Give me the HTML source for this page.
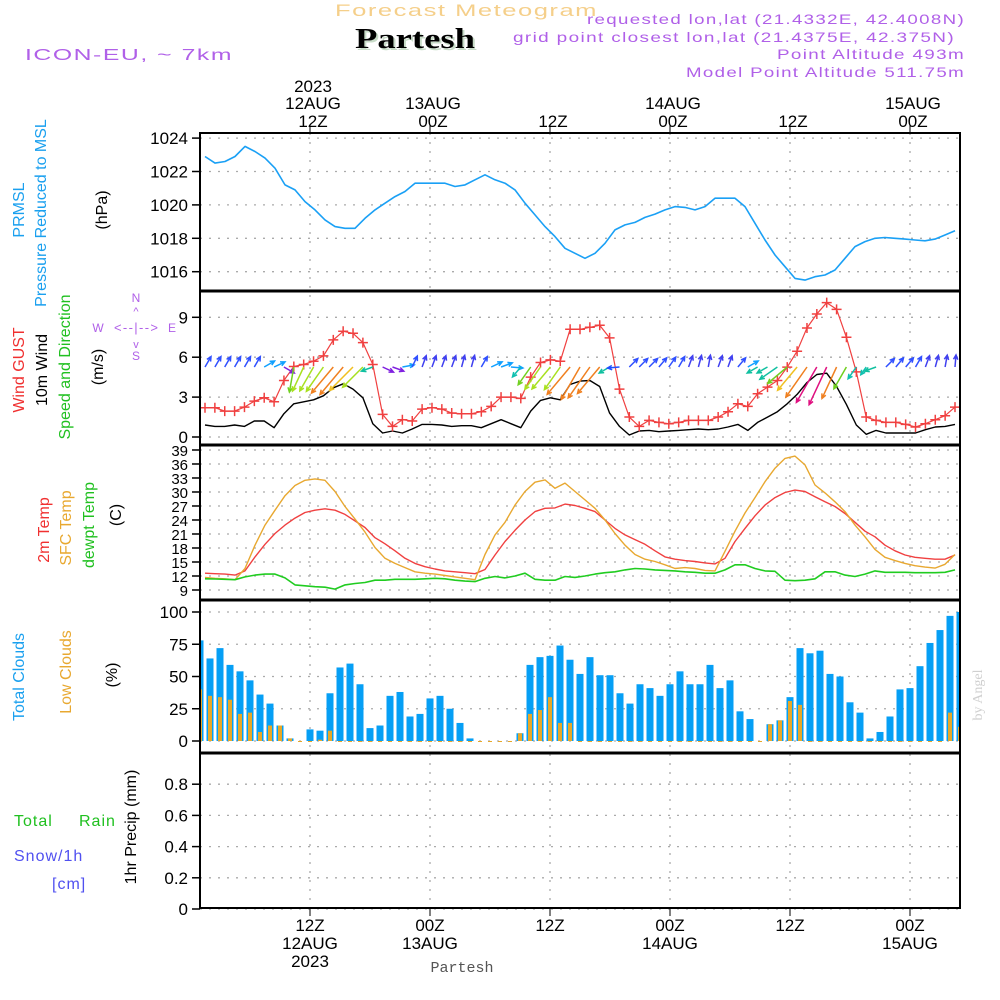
<!DOCTYPE html>
<html><head><meta charset="utf-8"><title>Forecast Meteogram Partesh</title>
<style>
html,body{margin:0;padding:0;background:#fff;}
svg{display:block;font-family:"Liberation Sans",sans-serif;}
</style></head>
<body>
<svg id="chart" width="1000" height="1000" viewBox="0 0 1000 1000" xmlns="http://www.w3.org/2000/svg">
<rect x="0" y="0" width="1000" height="1000" fill="#fff"/>
<g id="grid"></g>
<g id="marks"></g>
<g id="frame"></g>
<g id="labels"></g>

<text x="335" y="16" font-size="17" fill="#f5cf8a" textLength="263" lengthAdjust="spacingAndGlyphs" letter-spacing="1">Forecast Meteogram</text>
<text x="357" y="50" font-family="Liberation Serif,serif" font-weight="bold" font-size="28" fill="#c8dcc8" textLength="120" lengthAdjust="spacingAndGlyphs">Partesh</text>
<text x="355" y="48" font-family="Liberation Serif,serif" font-weight="bold" font-size="28" fill="#000" textLength="120" lengthAdjust="spacingAndGlyphs">Partesh</text>
<g font-size="14" fill="#b060e8" letter-spacing="1">
<text x="587" y="24" textLength="378" lengthAdjust="spacingAndGlyphs">requested lon,lat (21.4332E, 42.4008N)</text>
<text x="513" y="42" textLength="442" lengthAdjust="spacingAndGlyphs">grid point closest lon,lat (21.4375E, 42.375N)</text>
<text x="777" y="59" textLength="188" lengthAdjust="spacingAndGlyphs">Point Altitude 493m</text>
<text x="686" y="77" textLength="279" lengthAdjust="spacingAndGlyphs">Model Point Altitude 511.75m</text>
</g>
<text x="25" y="60" font-size="16" fill="#b060e8" textLength="208" lengthAdjust="spacingAndGlyphs" letter-spacing="1">ICON-EU, ~ 7km</text>

<g font-size="16">
<text transform="translate(24,210) rotate(-90)" text-anchor="middle" fill="#1aa0ef">PRMSL</text>
<text transform="translate(46,213) rotate(-90)" text-anchor="middle" fill="#1aa0ef">Pressure Reduced to MSL</text>
<text transform="translate(107,210) rotate(-90)" text-anchor="middle" fill="#000">(hPa)</text>
<text transform="translate(24,370) rotate(-90)" text-anchor="middle" fill="#f03030">Wind GUST</text>
<text transform="translate(47,370) rotate(-90)" text-anchor="middle" fill="#000">10m Wind</text>
<text transform="translate(70,367) rotate(-90)" text-anchor="middle" fill="#20c020">Speed and Direction</text>
<text transform="translate(103,367) rotate(-90)" text-anchor="middle" fill="#000">(m/s)</text>
<text transform="translate(49,530) rotate(-90)" text-anchor="middle" fill="#f03030">2m Temp</text>
<text transform="translate(71,528) rotate(-90)" text-anchor="middle" fill="#e8a830">SFC Temp</text>
<text transform="translate(94,525) rotate(-90)" text-anchor="middle" fill="#20c020">dewpt Temp</text>
<text transform="translate(121,515) rotate(-90)" text-anchor="middle" fill="#000">(C)</text>
<text transform="translate(24,677) rotate(-90)" text-anchor="middle" fill="#1aa0ef">Total Clouds</text>
<text transform="translate(71,672) rotate(-90)" text-anchor="middle" fill="#e8a830">Low Clouds</text>
<text transform="translate(117,675) rotate(-90)" text-anchor="middle" fill="#000">(%)</text>
<text transform="translate(136,827) rotate(-90)" text-anchor="middle" fill="#000">1hr Precip (mm)</text>
<text x="14" y="826" fill="#20c020" letter-spacing="1">Total</text>
<text x="79" y="826" fill="#20c020" letter-spacing="1">Rain</text>
<text x="14" y="861" fill="#5050f0" letter-spacing="1">Snow/1h</text>
<text x="52" y="889" fill="#5050f0" letter-spacing="1">[cm]</text>
</g>
<g font-size="12" fill="#b060e8" text-anchor="middle">
<text x="136" y="302">N</text>
<text x="98" y="332">W</text>
<text x="172" y="332">E</text>
<text x="136" y="360">S</text>
<text x="136" y="332" font-size="13" textLength="44" lengthAdjust="spacing">&lt;--|--&gt;</text>
<text x="136" y="315" font-size="11">^</text>
<text x="136" y="348" font-size="11">v</text>
</g>
<text transform="translate(982,695) rotate(-90)" text-anchor="middle" font-family="Liberation Serif,serif" font-size="14" fill="#d0d0d0">by Angel</text>
<text x="462" y="972" text-anchor="middle" font-family="Liberation Mono,monospace" font-size="15" fill="#555">Partesh</text>

<script>
// ---- data ----
var pressure = [1022.9,1022.5,1022.6,1022.9,1023.5,1023.2,1022.8,1022.2,1021.2,1020.9,1020.2,1019.7,1019.1,1018.7,1018.6,1018.6,1019.2,1019.7,1020.1,1020.5,1020.8,1021.3,1021.3,1021.3,1021.3,1021.1,1021.2,1021.5,1021.8,1021.5,1021.3,1020.9,1020.1,1019.4,1018.7,1018.1,1017.4,1017.1,1016.8,1017.1,1017.7,1018.5,1018.8,1018.95,1019.25,1019.45,1019.7,1019.9,1019.85,1019.7,1019.9,1020.4,1020.4,1020.4,1019.9,1018.9,1017.9,1017.0,1016.3,1015.6,1015.5,1015.7,1015.8,1016.1,1016.8,1017.5,1017.8,1018.0,1018.05,1018.0,1017.95,1017.9,1017.85,1017.95,1018.2,1018.45];
var windGust = [2.2,2.2,1.95,1.95,2.25,2.7,2.95,2.65,4.25,5.3,5.45,5.7,6.1,7.3,7.95,7.8,7.1,5.45,1.7,0.8,1.3,1.2,2.1,2.2,2.1,1.8,1.75,1.75,1.9,2.3,3.0,3.0,2.9,4.5,5.6,5.8,5.7,8.1,8.1,8.25,8.4,7.45,3.6,1.5,0.8,1.25,1.1,1.0,1.1,1.25,1.25,1.25,1.5,1.9,2.5,2.3,3.25,3.75,4.25,5.25,6.45,8.2,9.25,10.1,9.6,7.5,4.9,1.5,1.25,1.1,1.1,0.95,0.75,1.0,1.3,1.6,2.25];
var wind10m = [0.9,0.8,0.8,0.9,0.8,1.2,1.2,0.7,1.75,2.5,2.65,2.8,3.1,3.7,4.0,3.6,2.95,1.0,0.3,0.45,0.3,0.6,0.95,0.95,0.9,0.8,0.85,0.85,0.7,1.0,1.3,1.0,0.7,1.95,2.75,2.95,2.8,3.95,4.2,4.25,3.8,1.8,0.8,0.15,0.45,0.5,0.4,0.45,0.5,0.55,0.6,0.55,0.6,0.75,0.95,0.5,1.1,1.5,1.9,2.5,3.2,4.1,4.7,4.8,3.8,2.45,0.9,0.2,0.5,0.3,0.3,0.3,0.3,0.55,0.75,0.8,0.95];
var windDir = [30,30,30,30,30,30,60,65,120,190,205,210,215,220,220,225,225,250,115,110,80,25,20,20,20,20,15,15,30,65,70,95,220,215,215,220,215,220,210,215,220,240,265,45,45,45,40,35,30,20,15,10,20,20,40,60,240,240,235,230,220,215,210,205,205,210,215,215,250,45,40,40,30,20,15,10,5];
var temp2m = [12.6,12.5,12.4,12.2,13.1,16.1,18.8,21.1,22.9,24.4,25.6,26.1,26.4,26.1,25.2,23.8,22.4,20.2,18.9,17.4,15.8,14.7,14.0,13.5,13.1,12.9,12.7,12.5,13.4,16.5,19.4,21.8,24.0,25.8,26.5,26.6,27.4,27.1,26.5,25.8,24.0,22.2,20.8,19.8,18.8,17.4,16.1,15.6,15.3,15.1,14.8,14.6,15.8,19.4,22.2,24.9,27.2,28.8,29.9,30.4,30.1,29.0,27.9,26.9,25.4,23.5,21.6,20.4,18.6,17.4,16.5,16.0,15.8,15.6,15.6,16.5];
var tempSfc = [11.7,11.5,11.4,11.2,13.6,18.6,22.9,26.1,29.2,31.4,32.5,32.8,32.5,30.1,26.9,24.2,21.4,18.1,15.8,14.7,13.8,12.9,12.6,12.4,12.1,11.8,11.5,11.2,16.6,20.8,23.5,27.2,30.1,32.1,32.6,30.8,31.9,30.1,28.3,26.5,24.0,21.1,18.6,16.6,15.6,15.1,14.4,13.6,13.8,13.6,13.2,13.1,17.3,21.6,25.5,28.8,32.2,35.1,37.2,37.7,35.8,31.5,29.8,27.9,25.8,22.9,20.4,17.7,16.0,15.3,14.7,14.2,13.9,13.7,14.5,16.6];
var dewpt = [11.4,11.35,11.3,11.2,11.8,12.2,12.4,12.4,11.6,10.1,9.9,9.7,9.6,9.2,10.1,10.4,10.6,11.1,11.1,11.3,11.3,11.3,11.4,11.5,11.4,11.1,10.9,10.8,11.5,11.9,11.6,12.0,12.6,11.3,11.1,11.1,11.9,11.7,12.0,12.4,12.7,12.9,13.3,13.6,13.5,13.3,13.2,13.1,12.9,12.8,12.6,12.6,13.3,14.4,14.4,13.6,13.1,13.0,11.1,11.0,11.1,11.4,12.9,12.9,12.2,11.9,12.4,13.1,12.8,12.8,12.8,12.7,12.7,12.7,12.8,13.3];
var totalClouds = [78,64,72,59,54,47,36,29,12,2,0,9,8,37,57,60,44,10,12,35,38,19,21,33,35,25,14,2,0,0,0,0,6,59,65,66,74,63,52,65,51,51,37,29,44,41,35,44,54,44,44,59,41,47,23,17,0,13,16,34,72,68,70,52,50,30,22,2,7,19,40,41,58,76,86,97,100];
var lowClouds = [40,35,34,32,21,22,7,12,12,2,0,0,1,8,0,0,0,0,0,0,0,0,0,0,0,0,0,0,0,0,0,0,6,21,24,34,14,14,0,0,0,0,0,0,0,0,0,0,0,0,0,0,0,0,0,0,0,13,16,31,28,0,0,0,0,0,0,0,0,0,0,0,0,0,0,22,11];
var precip = [];
var pressTicks = [1016,1018,1020,1022,1024];
var windTicks = [0,3,6,9];
var tempTicks = [9,12,15,18,21,24,27,30,33,36,39];
var cloudTicks = [0,25,50,75,100];
var precipTicks = [0,0.2,0.4,0.6,0.8];
var precipTickLabels = ["0","0.2","0.4","0.6","0.8"];
var timeHours = [12,24,36,48,60,72];
var topLabels = [["2023","12AUG","12Z"],["","13AUG","00Z"],["","","12Z"],["","14AUG","00Z"],["","","12Z"],["","15AUG","00Z"]];
var bottomLabels = [["12Z","12AUG","2023"],["00Z","13AUG",""],["12Z","",""],["00Z","14AUG",""],["12Z","",""],["00Z","15AUG",""]];

// ---- axes ----
var NS="http://www.w3.org/2000/svg";
var L=200,R=960;
function xHour(h){return 200+h*10;}
function xSeries(i,n){return 205+i*750/(n-1);}
function yP(v){return 271.7-(v-1016)*16.7;}
function yW(v){return 437-v*13.3;}
function yT(v){return 590-(v-9)*4.667;}
function yC(v){return 741-v*1.29;}
function yR(v){return 909-v*156;}
function el(tag,attrs,parent){var e=document.createElementNS(NS,tag);for(var k in attrs)e.setAttribute(k,attrs[k]);parent.appendChild(e);return e;}
var grid=document.getElementById('grid'),marks=document.getElementById('marks'),frame=document.getElementById('frame'),labels=document.getElementById('labels');

function hgrid(ticks,yf,name,lab,fs){
  ticks.forEach(function(t,i){
    var y=yf(t);
    var g=el('line',{x1:L,x2:R,y1:y,y2:y,stroke:'#aaa','stroke-width':1.3,'stroke-dasharray':'2,7'},grid);
    
    
    var tk=el('line',{x1:L-8,x2:L,y1:y,y2:y,stroke:'#000','stroke-width':1.5},frame);
    
    
    var tx=el('text',{x:L-12,y:y+6,'text-anchor':'end','font-size':fs||17,fill:'#000'},labels);
    tx.textContent=lab?lab[i]:String(t);
    
    
  });
}
hgrid(pressTicks,yP,'pressure');
hgrid(windTicks,yW,'wind');
hgrid(tempTicks,yT,'temp',null,15);
hgrid(cloudTicks,yC,'cloud');
hgrid(precipTicks,yR,'precip',precipTickLabels);

timeHours.forEach(function(h,i){
  var x=xHour(h-1);
  var v=el('line',{x1:x,x2:x,y1:133,y2:908,stroke:'#aaa','stroke-width':1.3,'stroke-dasharray':'2,7'},grid);
  
  
  var t1=el('line',{x1:x,x2:x,y1:125,y2:133,stroke:'#000','stroke-width':1},frame);
  
  
  var t2=el('line',{x1:x,x2:x,y1:908,y2:916,stroke:'#000','stroke-width':1},frame);
  
  
  var ys=[92,109,127];
  topLabels[i].forEach(function(s,j){ if(!s)return;
    var t=el('text',{x:x+3,y:ys[j],'text-anchor':'middle','font-size':17,fill:'#000'},labels);t.textContent=s;
    
    
  });
  var yb=[931,949,967];
  bottomLabels[i].forEach(function(s,j){ if(!s)return;
    var t=el('text',{x:x,y:yb[j],'text-anchor':'middle','font-size':17,fill:'#000'},labels);t.textContent=s;
    
    
  });
});

var fr=el('rect',{x:L,y:133,width:R-L,height:775,fill:'none',stroke:'#000','stroke-width':2},frame);


[291,445,600,753].forEach(function(y){
  var s=el('line',{x1:L,x2:R,y1:y,y2:y,stroke:'#000','stroke-width':3},frame);
  
  
});
var bl=el('line',{x1:L,x2:R,y1:908,y2:908,stroke:'#000','stroke-width':2,'stroke-dasharray':'5,2'},frame);



// ---- series ----
function line(arr,yf,color,name,w){
  var d=arr.map(function(v,i){return (i?'L':'M')+xSeries(i,arr.length).toFixed(1)+','+yf(v).toFixed(1);}).join('');
  var p=el('path',{d:d,fill:'none',stroke:color,'stroke-width':w||1.5,'stroke-linejoin':'round'},marks);
  
  
}
totalClouds.forEach(function(v,i){
  var x=xHour(i);
  var x0=Math.max(L+1,x-3.5),x1=Math.min(R-1,x+3.5);
  var r=el('rect',{x:x0,y:yC(v),width:Math.max(0,x1-x0),height:yC(0)-yC(v),fill:'#069ff5'},marks);
  
  
});
lowClouds.forEach(function(v,i){
  var x=xHour(i);
  var x0=Math.max(L+1,x-2),x1=Math.min(R-1,x+2);
  var r=el('rect',{x:x0,y:yC(v),width:Math.max(0,x1-x0),height:Math.max(1,yC(0)-yC(v)),fill:'#e8a828'},marks);
  
  
});
line(pressure,yP,'#1aa0f5','pressure-line',1.6);
line(temp2m,yT,'#f04040','temp-2m-line',1.4);
line(tempSfc,yT,'#e8a830','sfc-temp-line',1.4);
line(dewpt,yT,'#20cc20','dewpt-line',1.6);
line(wind10m,yW,'#000','wind-10m-line',1.4);
line(windGust,yW,'#f04040','wind-gust-line',1.2);
windGust.forEach(function(v,i){
  var x=xSeries(i,windGust.length),y=yW(v);
  var c=el('path',{d:'M'+(x-5)+','+y+'H'+(x+5)+'M'+x+','+(y-5)+'V'+(y+5),stroke:'#f04040','stroke-width':1.5},marks);
  
  
});
function arrowColor(dir,sp){
  if(dir<22) return '#4040f0';
  if(dir<50) return '#3050ff';
  if(dir<100) return '#10a0ff';
  if(dir<180) return '#8020e0';
  if(dir<235){ if(sp<1.5) return '#10c0b0'; if(sp<2.6) return '#70d020'; if(sp<3.2) return '#a8e020'; if(sp<3.7) return '#f0c020'; if(sp<4.4) return '#f08020'; return '#e01080'; }
  if(dir<260) return '#10c0a0';
  return '#2050ff';
}
windDir.forEach(function(dir,i){
  var sp=wind10m[i];
  var x=xSeries(i,windDir.length), y=367;
  var len=(dir>180&&dir<240)?(8+sp*7):12;
  var a=dir*Math.PI/180;
  var x2=x+Math.sin(a)*len, y2=y-Math.cos(a)*len;
  var h=5, a1=a+Math.PI-0.45, a2=a+Math.PI+0.45;
  var d='M'+x.toFixed(1)+','+y+'L'+x2.toFixed(1)+','+y2.toFixed(1)+
        'M'+(x2+Math.sin(a1)*h).toFixed(1)+','+(y2-Math.cos(a1)*h).toFixed(1)+'L'+x2.toFixed(1)+','+y2.toFixed(1)+
        'L'+(x2+Math.sin(a2)*h).toFixed(1)+','+(y2-Math.cos(a2)*h).toFixed(1);
  var p=el('path',{d:d,fill:'none',stroke:arrowColor(dir,sp),'stroke-width':1.5},marks);
  
  
});
</script>
</svg>
</body></html>
